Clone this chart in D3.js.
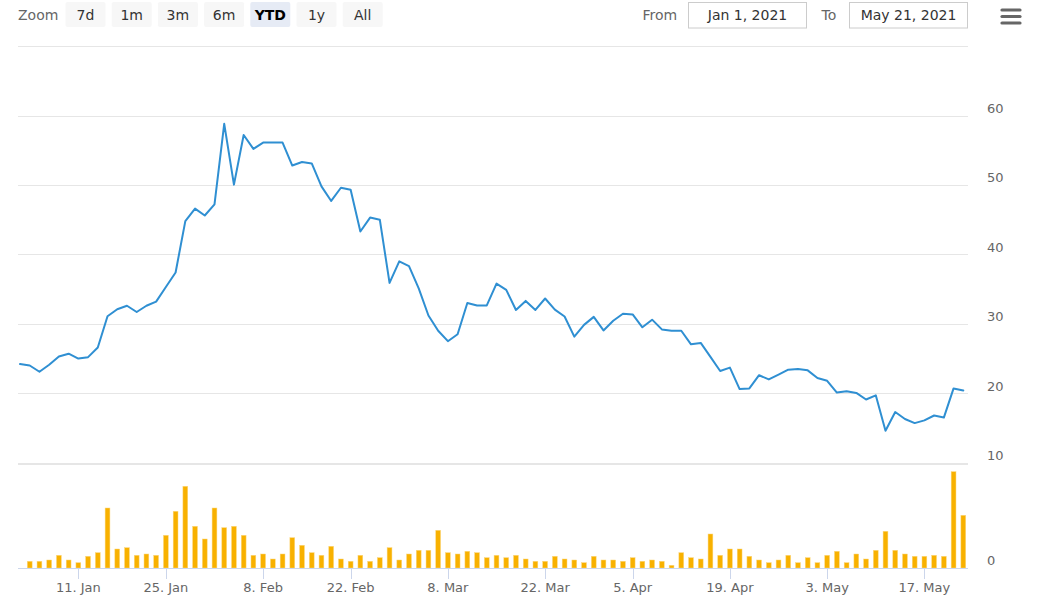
<!DOCTYPE html>
<html>
<head>
<meta charset="utf-8">
<script src="https://cdn.jsdelivr.net/npm/d3@7/dist/d3.min.js"></script>
<style>
  html, body { margin: 0; padding: 0; background: #fff; }
  svg { display: block; font-family: "DejaVu Sans", sans-serif; }
</style>
</head>
<body>
<svg id="chart" width="1048" height="606"></svg>
<script>
// ---------------- DATA ----------------
const rangeButtons = ["7d", "1m", "3m", "6m", "YTD", "1y", "All"];
const selectedButton = "YTD";
const fromLabel = "Jan 1, 2021";
const toLabel = "May 21, 2021";

// trading days (volume series)
const tradingDays = [
  "2021-01-04","2021-01-05","2021-01-06","2021-01-07","2021-01-08",
  "2021-01-11","2021-01-12","2021-01-13","2021-01-14","2021-01-15",
  "2021-01-19","2021-01-20","2021-01-21","2021-01-22",
  "2021-01-25","2021-01-26","2021-01-27","2021-01-28","2021-01-29",
  "2021-02-01","2021-02-02","2021-02-03","2021-02-04","2021-02-05",
  "2021-02-08","2021-02-09","2021-02-10","2021-02-11","2021-02-12",
  "2021-02-16","2021-02-17","2021-02-18","2021-02-19",
  "2021-02-22","2021-02-23","2021-02-24","2021-02-25","2021-02-26",
  "2021-03-01","2021-03-02","2021-03-03","2021-03-04","2021-03-05",
  "2021-03-08","2021-03-09","2021-03-10","2021-03-11","2021-03-12",
  "2021-03-15","2021-03-16","2021-03-17","2021-03-18","2021-03-19",
  "2021-03-22","2021-03-23","2021-03-24","2021-03-25","2021-03-26",
  "2021-03-29","2021-03-30","2021-03-31","2021-04-01",
  "2021-04-05","2021-04-06","2021-04-07","2021-04-08","2021-04-09",
  "2021-04-12","2021-04-13","2021-04-14","2021-04-15","2021-04-16",
  "2021-04-19","2021-04-20","2021-04-21","2021-04-22","2021-04-23",
  "2021-04-26","2021-04-27","2021-04-28","2021-04-29","2021-04-30",
  "2021-05-03","2021-05-04","2021-05-05","2021-05-06","2021-05-07",
  "2021-05-10","2021-05-11","2021-05-12","2021-05-13","2021-05-14",
  "2021-05-17","2021-05-18","2021-05-19","2021-05-20","2021-05-21"
];

// volume (millions)
const volume = [
  6.7, 6.7, 8, 12.7, 8, 5.3, 11.7, 15.3, 60, 19,
  20.3, 12.7, 14, 12.7, 32.7, 56.7, 81.7, 41.7, 29, 60,
  40.3, 41.7, 32.7, 12.7, 14, 9, 14, 30.3, 22.7, 15.3,
  12.7, 21.7, 9, 6.7, 12.7, 6.7, 10.3, 20.3, 8, 14,
  17.7, 17.7, 37.7, 15.3, 14, 16.7, 15.3, 10.3, 12.7, 10.3,
  12.7, 9, 6.7, 6.7, 11.7, 9, 8, 5.3, 11.7, 8,
  8, 6.7, 10.3, 6.7, 8, 6.7, 2.7, 15.3, 10.3, 9,
  34, 12.7, 19, 19, 11.7, 8, 5.3, 8, 12.7, 5.3,
  10.3, 5.3, 12.7, 16.7, 5.3, 14, 9, 17.7, 36.7, 17.7,
  14, 11.7, 11.7, 12.7, 11.7, 96.3, 52.7
];

// price line (starts one session earlier than the volume series)
const pricePointDates = ["2020-12-31"].concat(tradingDays);
const price = [
  24.2, 24.0, 23.1, 24.1, 25.3, 25.7, 25.0, 25.2, 26.6, 31.1,
  32.1, 32.6, 31.7, 32.6, 33.2, 35.3, 37.4, 44.8, 46.6, 45.6,
  47.2, 58.8, 50.05, 57.2, 55.2, 56.1, 56.1, 56.1, 52.8, 53.3,
  53.1, 49.8, 47.7, 49.6, 49.3, 43.3, 45.3, 45.0, 35.9, 39.0,
  38.3, 35.1, 31.2, 29.0, 27.5, 28.5, 33.0, 32.65, 32.65, 35.8,
  34.9, 32.0, 33.3, 32.0, 33.65, 32.05, 31.05, 28.15, 29.85, 31.0,
  29.05, 30.45, 31.45, 31.35, 29.5, 30.6, 29.2, 29.0, 29.0, 27.05,
  27.25, 25.25, 23.2, 23.7, 20.6, 20.7, 22.6, 22.0, 22.7, 23.4,
  23.5, 23.3, 22.2, 21.8, 20.1, 20.3, 20.05, 19.1, 19.7, 14.6,
  17.3, 16.3, 15.7, 16.1, 16.8, 16.5, 20.7, 20.4
];

const priceTicks = [10, 20, 30, 40, 50, 60, 70];
const priceTickLabels = ["10", "20", "30", "40", "50", "60", ""];
const volumeTicks = [0];
const xTickDates = ["2021-01-11","2021-01-25","2021-02-08","2021-02-22","2021-03-08",
                    "2021-03-22","2021-04-05","2021-04-19","2021-05-03","2021-05-17"];
const xTickLabels = ["11. Jan","25. Jan","8. Feb","22. Feb","8. Mar",
                     "22. Mar","5. Apr","19. Apr","3. May","17. May"];

// ---------------- LAYOUT ----------------
const svg = d3.select("#chart");
const plotLeft = 18, plotRight = 968;
const gridColor = "#e6e6e6";
const labelColor = "#666666";
const lineColor = "#2f8fd2";
const barColor = "#f8b100";

// ordinal x axis: one slot per session
const x = d3.scalePoint().domain(pricePointDates).range([20, 963.3]);

const yPrice = d3.scaleLinear().domain([10, 70]).range([462.7, 46.1]);
const yVol = d3.scaleLinear().domain([0, 104]).range([568, 464]);

// ---------------- TOOLBAR ----------------
const tb = svg.append("g");
tb.append("text").attr("x", 18).attr("y", 20).attr("font-size", 14)
  .attr("fill", labelColor).text("Zoom");
const btnX0 = 65.5, btnStep = 46.2, btnW = 40;
rangeButtons.forEach((b, i) => {
  const g = tb.append("g").attr("transform", `translate(${btnX0 + i * btnStep},2)`);
  const sel = b === selectedButton;
  g.append("rect").attr("width", btnW).attr("height", 25).attr("rx", 2)
    .attr("fill", sel ? "#e6ebf5" : "#f7f7f7");
  g.append("text").attr("x", btnW / 2).attr("y", 17.5).attr("text-anchor", "middle")
    .attr("font-size", 14).attr("font-weight", sel ? "bold" : "normal")
    .attr("fill", sel ? "#000" : "#333").text(b);
});
tb.append("text").attr("x", 642.5).attr("y", 20).attr("font-size", 14)
  .attr("fill", labelColor).text("From");
tb.append("rect").attr("x", 688.5).attr("y", 2.5).attr("width", 118).attr("height", 25.5)
  .attr("fill", "#fff").attr("stroke", "#cccccc");
tb.append("text").attr("x", 747.5).attr("y", 20).attr("text-anchor", "middle").attr("font-size", 14)
  .attr("fill", "#333").text(fromLabel);
tb.append("text").attr("x", 821.5).attr("y", 20).attr("font-size", 14)
  .attr("fill", labelColor).text("To");
tb.append("rect").attr("x", 849.5).attr("y", 2.5).attr("width", 118).attr("height", 25.5)
  .attr("fill", "#fff").attr("stroke", "#cccccc");
tb.append("text").attr("x", 908.5).attr("y", 20).attr("text-anchor", "middle").attr("font-size", 14)
  .attr("fill", "#333").text(toLabel);
[10, 16.5, 23].forEach(y => {
  tb.append("line").attr("x1", 1002).attr("x2", 1020).attr("y1", y).attr("y2", y)
    .attr("stroke", "#666").attr("stroke-width", 3.2).attr("stroke-linecap", "round");
});

// ---------------- GRID & Y AXES ----------------
const grid = svg.append("g");
priceTicks.forEach((t, i) => {
  const y = Math.round(yPrice(t)) + 0.5;
  grid.append("line").attr("x1", plotLeft).attr("x2", plotRight).attr("y1", y).attr("y2", y)
    .attr("stroke", gridColor).attr("stroke-width", 1);
  if (priceTickLabels[i]) {
    grid.append("text").attr("x", 987).attr("y", yPrice(t) - 2.5).attr("font-size", 13)
      .attr("fill", labelColor).text(priceTickLabels[i]);
  }
});
// volume pane top
grid.append("line").attr("x1", plotLeft).attr("x2", plotRight)
  .attr("y1", yVol.range()[1] + 0.5).attr("y2", yVol.range()[1] + 0.5)
  .attr("stroke", gridColor).attr("stroke-width", 1);
volumeTicks.forEach(t => {
  grid.append("text").attr("x", 987).attr("y", yVol(t) - 3).attr("font-size", 13)
    .attr("fill", labelColor).text(String(t));
});

// ---------------- VOLUME BARS ----------------
const barW = 4.8;
svg.append("g").selectAll("rect").data(volume).join("rect")
  .attr("x", (v, i) => x(tradingDays[i]) - barW / 2)
  .attr("y", v => yVol(v))
  .attr("width", barW)
  .attr("height", v => yVol(0) - yVol(v))
  .attr("fill", barColor)
  .attr("stroke", "#fcd67a").attr("stroke-width", 0.5);

// ---------------- X AXIS ----------------
const xa = svg.append("g");
xa.append("line").attr("x1", plotLeft).attr("x2", plotRight)
  .attr("y1", 568.5).attr("y2", 568.5).attr("stroke", "#ccd6eb").attr("stroke-width", 1);
xTickDates.forEach((d, i) => {
  const px = Math.round(x(d)) + 0.5;
  xa.append("line").attr("x1", px).attr("x2", px).attr("y1", 569).attr("y2", 579)
    .attr("stroke", "#ccd6eb").attr("stroke-width", 1);
  xa.append("text").attr("x", x(d)).attr("y", 592).attr("text-anchor", "middle")
    .attr("font-size", 13).attr("fill", labelColor).text(xTickLabels[i]);
});

// ---------------- PRICE LINE ----------------
const line = d3.line().x((v, i) => x(pricePointDates[i])).y(v => yPrice(v));
svg.append("path").datum(price).attr("d", line)
  .attr("fill", "none").attr("stroke", lineColor).attr("stroke-width", 2)
  .attr("stroke-linejoin", "round").attr("stroke-linecap", "round");
</script>
</body>
</html>
